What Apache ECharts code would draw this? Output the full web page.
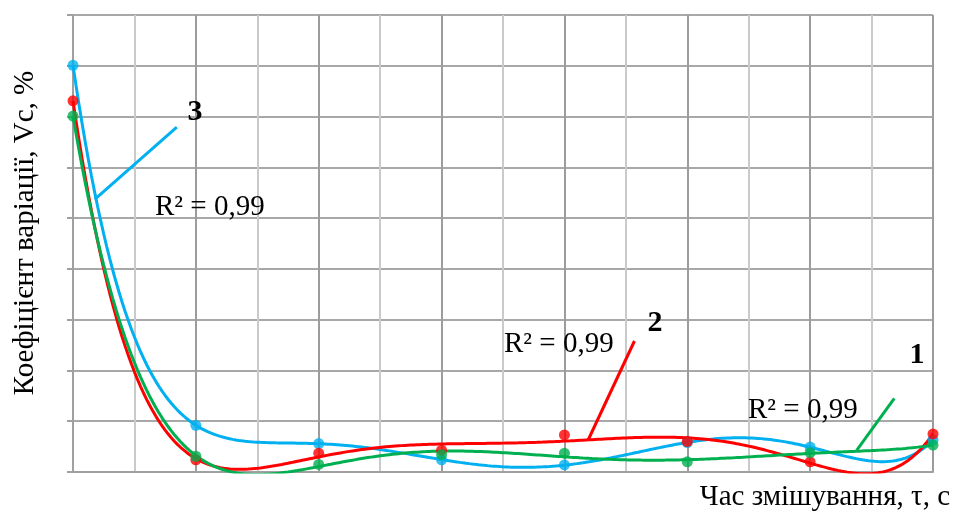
<!DOCTYPE html>
<html>
<head>
<meta charset="utf-8">
<script src="https://cdn.jsdelivr.net/npm/echarts@6/dist/echarts.min.js"></script>
<style>
  html, body { margin: 0; padding: 0; background: #fff; }
  #chart { width: 953px; height: 512px; }
</style>
</head>
<body>
<div id="chart"></div>
<script>
// Mixing time, s (positions on the x scale)
const mixTime = [0, 2, 4, 6, 8, 10, 12, 14];
// Coefficient of variation Vc, % for the three mixtures
const series1 = [7.01, 0.31, 0.15, 0.34, 0.37, 0.20, 0.38, 0.53];
const series2 = [7.31, 0.24, 0.37, 0.43, 0.73, 0.60, 0.20, 0.75];
const series3 = [8.01, 0.92, 0.56, 0.24, 0.14, 0.58, 0.49, 0.63];
// Curve labels and fit quality
const curveNames = ['1', '2', '3'];
const r2Text = 'R² = 0,99';
// Leader lines from each trend curve to its number (data coordinates)
const leader1 = [[12.76, 0.43], [13.37, 1.45]];
const leader2 = [[8.39, 0.64], [9.14, 2.58]];
const leader3 = [[0.354, 5.37], [1.69, 6.79]];

const COLORS = { s1: '#00b050', s2: '#ff0000', s3: '#00b0f0' };
const FONT = '"Liberation Serif", "Times New Roman", serif';

// Least-squares polynomial trend line (degree 6), sampled along the x range
function polyTrend(xs, ys, degree) {
  const c = 7, h = 7;
  const n = degree + 1;
  const A = [];
  for (let i = 0; i < n; i++) { A.push(new Array(n + 1).fill(0)); }
  xs.forEach((x, k) => {
    const t = (x - c) / h;
    const p = [];
    for (let i = 0; i < n; i++) p.push(Math.pow(t, i));
    for (let i = 0; i < n; i++) {
      for (let j = 0; j < n; j++) A[i][j] += p[i] * p[j];
      A[i][n] += p[i] * ys[k];
    }
  });
  for (let col = 0; col < n; col++) {
    let piv = col;
    for (let r = col + 1; r < n; r++) if (Math.abs(A[r][col]) > Math.abs(A[piv][col])) piv = r;
    [A[col], A[piv]] = [A[piv], A[col]];
    for (let r = 0; r < n; r++) {
      if (r === col) continue;
      const f = A[r][col] / A[col][col];
      for (let k = col; k <= n; k++) A[r][k] -= f * A[col][k];
    }
  }
  const coef = A.map((row, i) => row[n] / row[i]);
  const out = [];
  const x0 = xs[0], x1 = xs[xs.length - 1];
  const steps = 280;
  for (let s = 0; s <= steps; s++) {
    const x = x0 + (x1 - x0) * s / steps;
    const t = (x - c) / h;
    let y = 0;
    for (let i = 0; i < n; i++) y += coef[i] * Math.pow(t, i);
    out.push([x, y]);
  }
  return out;
}

const pts = (ys) => mixTime.map((x, i) => [x, ys[i]]);

function trend(ys, color, z) {
  return {
    type: 'line', data: polyTrend(mixTime, ys, 6), showSymbol: false, symbol: 'none',
    smooth: false, clip: true, z: z, silent: true,
    lineStyle: { color: color, width: 3 }
  };
}
function markers(ys, color, z) {
  return {
    type: 'scatter', data: pts(ys), symbol: 'circle', symbolSize: 11, z: z, silent: true,
    itemStyle: { color: color }
  };
}
function leader(seg, color) {
  return {
    type: 'line', data: seg, showSymbol: false, symbol: 'none', z: 6, silent: true,
    lineStyle: { color: color, width: 3 }
  };
}

const chart = echarts.init(document.getElementById('chart'), null, { renderer: 'canvas' });
chart.setOption({
  backgroundColor: '#ffffff',
  animation: false,
  grid: { left: 73, right: 20, top: 15, bottom: 40, containLabel: false },
  xAxis: {
    type: 'value', min: 0, max: 14, interval: 1,
    axisLine: { show: true, lineStyle: { color: '#a0a0a0', width: 2 } },
    axisTick: { show: false },
    axisLabel: { show: false },
    splitLine: { show: true, lineStyle: { color: ['#9c9c9c', '#cacaca'], width: 2 } }
  },
  yAxis: {
    type: 'value', min: 0, max: 9, interval: 1,
    axisLine: { show: true, lineStyle: { color: '#a0a0a0', width: 2 } },
    axisTick: { show: true, inside: false, length: 6, lineStyle: { color: '#a0a0a0', width: 2 } },
    axisLabel: { show: false },
    splitLine: { show: true, lineStyle: { color: '#a8a8a8', width: 2 } }
  },
  series: [
    trend(series3, COLORS.s3, 3),
    trend(series2, COLORS.s2, 4),
    trend(series1, COLORS.s1, 5),
    markers(series3, COLORS.s3, 7),
    markers(series2, COLORS.s2, 8),
    markers(series1, COLORS.s1, 9),
    leader(leader3, COLORS.s3),
    leader(leader2, COLORS.s2),
    leader(leader1, COLORS.s1)
  ],
  graphic: [
    { type: 'text', x: 25, y: 233, rotation: Math.PI / 2,
      style: { text: 'Коефіцієнт варіації, Vc, %', font: '29px ' + FONT, fill: '#000',
        textAlign: 'center', textVerticalAlign: 'middle' } },
    { type: 'text', x: 950, y: 497,
      style: { text: 'Час змішування, τ, с', font: '29px ' + FONT, fill: '#000',
        textAlign: 'right', textVerticalAlign: 'middle' } },
    { type: 'text', x: 155, y: 207, z: 20,
      style: { text: r2Text, font: '29px ' + FONT, fill: '#000', textAlign: 'left', textVerticalAlign: 'middle' } },
    { type: 'text', x: 504, y: 344, z: 20,
      style: { text: r2Text, font: '29px ' + FONT, fill: '#000', textAlign: 'left', textVerticalAlign: 'middle' } },
    { type: 'text', x: 748, y: 410, z: 20,
      style: { text: r2Text, font: '29px ' + FONT, fill: '#000', textAlign: 'left', textVerticalAlign: 'middle' } },
    { type: 'text', x: 195, y: 112, z: 20,
      style: { text: curveNames[2], font: 'bold 30px ' + FONT, fill: '#000', textAlign: 'center', textVerticalAlign: 'middle' } },
    { type: 'text', x: 655, y: 323, z: 20,
      style: { text: curveNames[1], font: 'bold 30px ' + FONT, fill: '#000', textAlign: 'center', textVerticalAlign: 'middle' } },
    { type: 'text', x: 917, y: 355, z: 20,
      style: { text: curveNames[0], font: 'bold 30px ' + FONT, fill: '#000', textAlign: 'center', textVerticalAlign: 'middle' } }
  ]
});
</script>
</body>
</html>
